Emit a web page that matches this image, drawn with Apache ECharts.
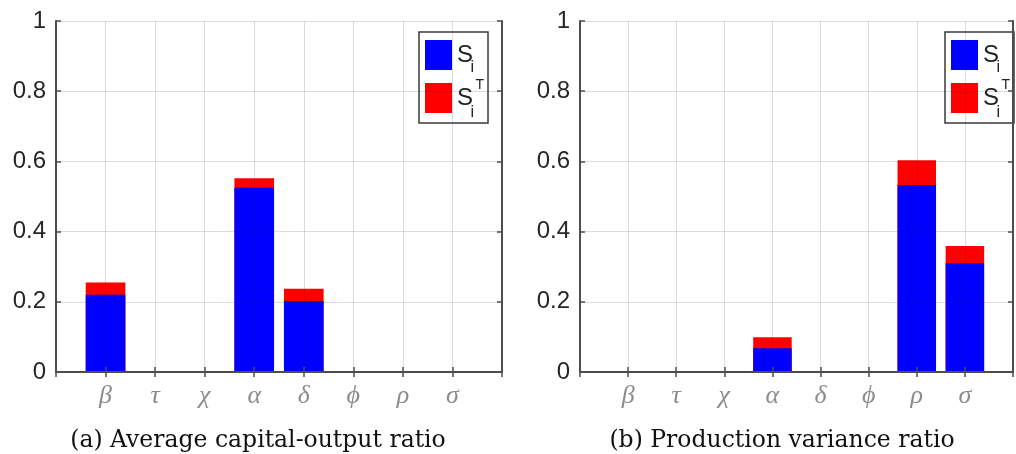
<!DOCTYPE html>
<html>
<head>
<meta charset="utf-8">
<script src="https://cdn.jsdelivr.net/npm/echarts@6/dist/echarts.min.js"></script>
<style>
html,body{margin:0;padding:0;background:#fff;}
#chart{width:1016px;height:454px;}
</style>
</head>
<body>
<div id="chart"></div>
<script>
// ---- data ----
const categories = ['β', 'τ', 'χ', 'α', 'δ', 'ϕ', 'ρ', 'σ'];
const capitalSi = [0.22, 0, 0, 0.525, 0.202, 0, 0, 0];
const capitalST = [0.255, 0, 0, 0.552, 0.237, 0, 0, 0];
const varianceSi = [0, 0, 0, 0.068, 0, 0, 0.533, 0.31];
const varianceST = [0, 0, 0, 0.099, 0, 0, 0.603, 0.359];
const captions = ['(a) Average capital-output ratio', '(b) Production variance ratio'];
const seriesNames = ['S_i', 'S_i^T'];

// padded category list so categories sit at 1..8 on a 0..9 span
const axisCats = [''].concat(categories, ['']);
const pad = arr => [null].concat(arr, [null]);

const chart = echarts.init(document.getElementById('chart'));

const gridLeft = [56, 580];
const legendLeft = [419, 945];
const frame = '#4d4d4d';
const gridColor = 'rgba(40,40,40,0.16)';
const sans = "'Liberation Sans', Arial, sans-serif";

function xAxes(gi) {
  return [
    {
      type: 'category', gridIndex: gi, data: axisCats, boundaryGap: false, position: 'bottom', z: 5,
      axisLine: {show: true, lineStyle: {color: frame, width: 2}},
      axisTick: {show: true, inside: true, length: 5, interval: 0, lineStyle: {color: frame, width: 1.5}},
      axisLabel: {interval: 0, margin: 11, color: '#8c8c8c', fontSize: 26, fontStyle: 'italic',
                  fontFamily: "'Liberation Serif', 'DejaVu Serif', serif"},
      splitLine: {show: true, interval: 0, lineStyle: {color: gridColor, width: 1}}
    },
    {
      type: 'category', gridIndex: gi, data: axisCats, boundaryGap: false, position: 'top', z: 5,
      axisLine: {show: true, lineStyle: {color: frame, width: 2}},
      axisTick: {show: true, inside: true, length: 5, interval: 0, lineStyle: {color: frame, width: 1.5}},
      axisLabel: {show: false},
      splitLine: {show: false}
    }
  ];
}
function yAxes(gi) {
  return [
    {
      type: 'value', gridIndex: gi, min: 0, max: 1, interval: 0.2, position: 'left', z: 5,
      axisLine: {show: true, lineStyle: {color: frame, width: 2}},
      axisTick: {show: true, inside: true, length: 5, lineStyle: {color: frame, width: 1.5}},
      axisLabel: {margin: 10, color: '#262626', fontSize: 24, fontFamily: sans},
      splitLine: {show: true, lineStyle: {color: gridColor, width: 1}}
    },
    {
      type: 'value', gridIndex: gi, min: 0, max: 1, interval: 0.2, position: 'right', z: 5,
      axisLine: {show: true, lineStyle: {color: frame, width: 2}},
      axisTick: {show: true, inside: true, length: 5, lineStyle: {color: frame, width: 1.5}},
      axisLabel: {show: false},
      splitLine: {show: false}
    }
  ];
}

function legendFor(left) {
  return {
    orient: 'vertical', left: left, top: 32,
    data: seriesNames,
    icon: 'rect', itemWidth: 27, itemHeight: 30, itemGap: 13,
    padding: [8, 15, 10, 6],
    borderColor: '#3a3a3a', borderWidth: 1.5, backgroundColor: '#fff',
    selectedMode: false,
    formatter: () => 'S',
    textStyle: {color: '#222', fontFamily: sans, fontSize: 24, lineHeight: 22, padding: [0, 0, 7, 0]}
  };
}

// sub/superscripts of the legend labels
function scripts(left) {
  const dx = left - legendLeft[0];
  const font = s => s + "px 'Liberation Sans', Arial, sans-serif";
  return [
    {type: 'text', left: 470.5 + dx, top: 59.4, z: 100, style: {text: 'i', fill: '#222', font: font(16)}},
    {type: 'text', left: 470.5 + dx, top: 104.4, z: 100, style: {text: 'i', fill: '#222', font: font(16)}},
    {type: 'text', left: 475.5 + dx, top: 78, z: 100, style: {text: 'T', fill: '#222', font: font(14)}}
  ];
}

function barSeries(gi, si, st) {
  return [
    {name: seriesNames[1], type: 'bar', xAxisIndex: gi * 2, yAxisIndex: gi * 2, data: pad(st),
     barWidth: '80%', barGap: '-100%', itemStyle: {color: '#ff0000'}, z: 2},
    {name: seriesNames[0], type: 'bar', xAxisIndex: gi * 2, yAxisIndex: gi * 2, data: pad(si),
     barWidth: '80%', barGap: '-100%', itemStyle: {color: '#0000ff'}, z: 3}
  ];
}

const capStyle = {fontSize: 23.5, fontWeight: 'normal', color: '#111', fontFamily: "'DejaVu Serif', serif"};

const option = {
  animation: false,
  backgroundColor: '#ffffff',
  grid: [
    {left: gridLeft[0], top: 21, width: 446, height: 351},
    {left: gridLeft[1], top: 21, width: 446, height: 351}
  ],
  xAxis: xAxes(0).concat(xAxes(1)),
  yAxis: yAxes(0).concat(yAxes(1)),
  legend: [legendFor(legendLeft[0]), legendFor(legendLeft[1])],
  title: [
    {text: captions[0], left: 258, top: 429, textAlign: 'center', padding: 0, textStyle: capStyle},
    {text: captions[1], left: 782, top: 429, textAlign: 'center', padding: 0, textStyle: capStyle}
  ],
  graphic: scripts(legendLeft[0]).concat(scripts(legendLeft[1])),
  series: barSeries(0, capitalSi, capitalST).concat(barSeries(1, varianceSi, varianceST))
};
chart.setOption(option);
</script>
</body>
</html>
